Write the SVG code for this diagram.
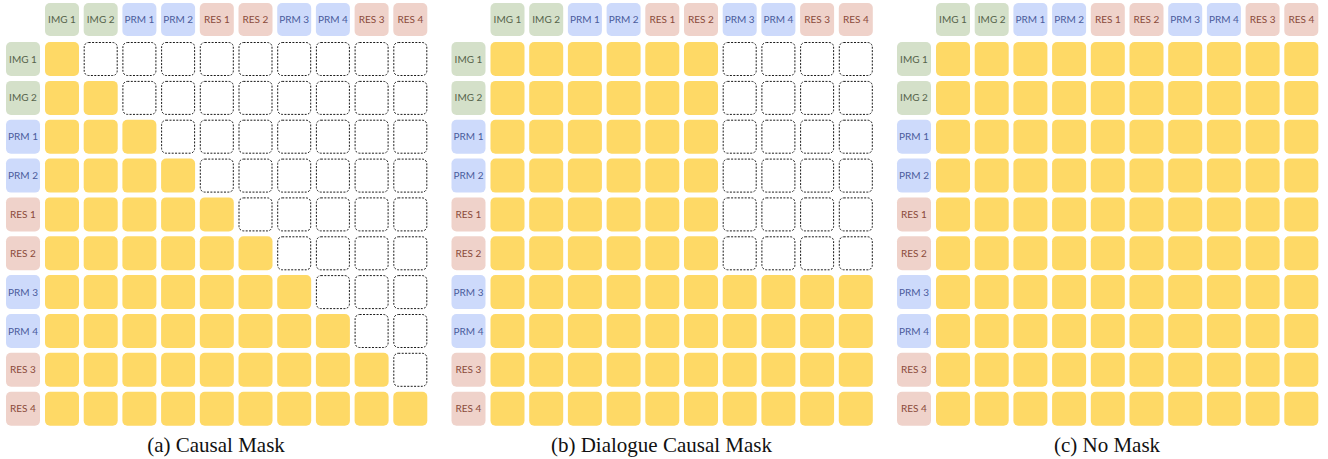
<svg xmlns="http://www.w3.org/2000/svg" xmlns:xlink="http://www.w3.org/1999/xlink" width="1328" height="459" viewBox="0 0 1328 459">
<style>
.lg{fill:#D4E0C9}.lb{fill:#CDDAFB}.lr{fill:#EFD2CA}
text{font-family:Lato,"Open Sans","Liberation Sans",sans-serif;font-size:10px;text-anchor:middle}
.tg{fill:#56634B}.tb{fill:#4B5C9C}.tr{fill:#8A4A3A}
.cap{font-family:"Liberation Serif","Times New Roman",serif;font-size:21px;fill:#111}
</style>
<defs>
<rect id="y" width="34" height="34" rx="5" fill="#FED966"/>
<rect id="d" x="0.5" y="0.5" width="33" height="33" rx="4.5" fill="#fff" stroke="#1a1a1a" stroke-width="1" stroke-dasharray="2 1.4"/>
</defs>
<rect width="1328" height="459" fill="#fff"/>

<!-- Panel A -->
<g id="panel-a">
<g id="a-header">
<g id="a-h1"><rect class="lg" x="45" y="3" width="34" height="33" rx="5"/><text class="tg" x="62" y="23">IMG 1</text></g>
<g id="a-h2"><rect class="lg" x="83.7" y="3" width="34" height="33" rx="5"/><text class="tg" x="100.7" y="23">IMG 2</text></g>
<g id="a-h3"><rect class="lb" x="122.4" y="3" width="34" height="33" rx="5"/><text class="tb" x="139.4" y="23">PRM 1</text></g>
<g id="a-h4"><rect class="lb" x="161.1" y="3" width="34" height="33" rx="5"/><text class="tb" x="178.1" y="23">PRM 2</text></g>
<g id="a-h5"><rect class="lr" x="199.8" y="3" width="34" height="33" rx="5"/><text class="tr" x="216.8" y="23">RES 1</text></g>
<g id="a-h6"><rect class="lr" x="238.5" y="3" width="34" height="33" rx="5"/><text class="tr" x="255.5" y="23">RES 2</text></g>
<g id="a-h7"><rect class="lb" x="277.2" y="3" width="34" height="33" rx="5"/><text class="tb" x="294.2" y="23">PRM 3</text></g>
<g id="a-h8"><rect class="lb" x="315.9" y="3" width="34" height="33" rx="5"/><text class="tb" x="332.9" y="23">PRM 4</text></g>
<g id="a-h9"><rect class="lr" x="354.6" y="3" width="34" height="33" rx="5"/><text class="tr" x="371.6" y="23">RES 3</text></g>
<g id="a-h10"><rect class="lr" x="393.3" y="3" width="34" height="33" rx="5"/><text class="tr" x="410.3" y="23">RES 4</text></g>
</g>
<g id="a-rows">
<g id="a-r1"><rect class="lg" x="6" y="42" width="34" height="34" rx="5"/><text class="tg" x="23" y="62.5">IMG 1</text></g>
<g id="a-r2"><rect class="lg" x="6" y="80.9" width="34" height="34" rx="5"/><text class="tg" x="23" y="101.4">IMG 2</text></g>
<g id="a-r3"><rect class="lb" x="6" y="119.7" width="34" height="34" rx="5"/><text class="tb" x="23" y="140.2">PRM 1</text></g>
<g id="a-r4"><rect class="lb" x="6" y="158.6" width="34" height="34" rx="5"/><text class="tb" x="23" y="179.1">PRM 2</text></g>
<g id="a-r5"><rect class="lr" x="6" y="197.4" width="34" height="34" rx="5"/><text class="tr" x="23" y="217.9">RES 1</text></g>
<g id="a-r6"><rect class="lr" x="6" y="236.3" width="34" height="34" rx="5"/><text class="tr" x="23" y="256.8">RES 2</text></g>
<g id="a-r7"><rect class="lb" x="6" y="275.1" width="34" height="34" rx="5"/><text class="tb" x="23" y="295.6">PRM 3</text></g>
<g id="a-r8"><rect class="lb" x="6" y="314" width="34" height="34" rx="5"/><text class="tb" x="23" y="334.5">PRM 4</text></g>
<g id="a-r9"><rect class="lr" x="6" y="352.8" width="34" height="34" rx="5"/><text class="tr" x="23" y="373.3">RES 3</text></g>
<g id="a-r10"><rect class="lr" x="6" y="391.7" width="34" height="34" rx="5"/><text class="tr" x="23" y="412.2">RES 4</text></g>
</g>
<g id="a-cells">
<use href="#y" x="45" y="42"/><use href="#d" x="83.7" y="42"/><use href="#d" x="122.4" y="42"/><use href="#d" x="161.1" y="42"/><use href="#d" x="199.8" y="42"/><use href="#d" x="238.5" y="42"/><use href="#d" x="277.2" y="42"/><use href="#d" x="315.9" y="42"/><use href="#d" x="354.6" y="42"/><use href="#d" x="393.3" y="42"/>
<use href="#y" x="45" y="80.9"/><use href="#y" x="83.7" y="80.9"/><use href="#d" x="122.4" y="80.9"/><use href="#d" x="161.1" y="80.9"/><use href="#d" x="199.8" y="80.9"/><use href="#d" x="238.5" y="80.9"/><use href="#d" x="277.2" y="80.9"/><use href="#d" x="315.9" y="80.9"/><use href="#d" x="354.6" y="80.9"/><use href="#d" x="393.3" y="80.9"/>
<use href="#y" x="45" y="119.7"/><use href="#y" x="83.7" y="119.7"/><use href="#y" x="122.4" y="119.7"/><use href="#d" x="161.1" y="119.7"/><use href="#d" x="199.8" y="119.7"/><use href="#d" x="238.5" y="119.7"/><use href="#d" x="277.2" y="119.7"/><use href="#d" x="315.9" y="119.7"/><use href="#d" x="354.6" y="119.7"/><use href="#d" x="393.3" y="119.7"/>
<use href="#y" x="45" y="158.6"/><use href="#y" x="83.7" y="158.6"/><use href="#y" x="122.4" y="158.6"/><use href="#y" x="161.1" y="158.6"/><use href="#d" x="199.8" y="158.6"/><use href="#d" x="238.5" y="158.6"/><use href="#d" x="277.2" y="158.6"/><use href="#d" x="315.9" y="158.6"/><use href="#d" x="354.6" y="158.6"/><use href="#d" x="393.3" y="158.6"/>
<use href="#y" x="45" y="197.4"/><use href="#y" x="83.7" y="197.4"/><use href="#y" x="122.4" y="197.4"/><use href="#y" x="161.1" y="197.4"/><use href="#y" x="199.8" y="197.4"/><use href="#d" x="238.5" y="197.4"/><use href="#d" x="277.2" y="197.4"/><use href="#d" x="315.9" y="197.4"/><use href="#d" x="354.6" y="197.4"/><use href="#d" x="393.3" y="197.4"/>
<use href="#y" x="45" y="236.3"/><use href="#y" x="83.7" y="236.3"/><use href="#y" x="122.4" y="236.3"/><use href="#y" x="161.1" y="236.3"/><use href="#y" x="199.8" y="236.3"/><use href="#y" x="238.5" y="236.3"/><use href="#d" x="277.2" y="236.3"/><use href="#d" x="315.9" y="236.3"/><use href="#d" x="354.6" y="236.3"/><use href="#d" x="393.3" y="236.3"/>
<use href="#y" x="45" y="275.1"/><use href="#y" x="83.7" y="275.1"/><use href="#y" x="122.4" y="275.1"/><use href="#y" x="161.1" y="275.1"/><use href="#y" x="199.8" y="275.1"/><use href="#y" x="238.5" y="275.1"/><use href="#y" x="277.2" y="275.1"/><use href="#d" x="315.9" y="275.1"/><use href="#d" x="354.6" y="275.1"/><use href="#d" x="393.3" y="275.1"/>
<use href="#y" x="45" y="314"/><use href="#y" x="83.7" y="314"/><use href="#y" x="122.4" y="314"/><use href="#y" x="161.1" y="314"/><use href="#y" x="199.8" y="314"/><use href="#y" x="238.5" y="314"/><use href="#y" x="277.2" y="314"/><use href="#y" x="315.9" y="314"/><use href="#d" x="354.6" y="314"/><use href="#d" x="393.3" y="314"/>
<use href="#y" x="45" y="352.8"/><use href="#y" x="83.7" y="352.8"/><use href="#y" x="122.4" y="352.8"/><use href="#y" x="161.1" y="352.8"/><use href="#y" x="199.8" y="352.8"/><use href="#y" x="238.5" y="352.8"/><use href="#y" x="277.2" y="352.8"/><use href="#y" x="315.9" y="352.8"/><use href="#y" x="354.6" y="352.8"/><use href="#d" x="393.3" y="352.8"/>
<use href="#y" x="45" y="391.7"/><use href="#y" x="83.7" y="391.7"/><use href="#y" x="122.4" y="391.7"/><use href="#y" x="161.1" y="391.7"/><use href="#y" x="199.8" y="391.7"/><use href="#y" x="238.5" y="391.7"/><use href="#y" x="277.2" y="391.7"/><use href="#y" x="315.9" y="391.7"/><use href="#y" x="354.6" y="391.7"/><use href="#y" x="393.3" y="391.7"/>
</g>
<text id="a-caption" class="cap" x="216" y="452">(a) Causal Mask</text>
</g>

<!-- Panel B -->
<g id="panel-b" transform="translate(445.5,0)">
<g id="b-header">
<g id="b-h1"><rect class="lg" x="45" y="3" width="34" height="33" rx="5"/><text class="tg" x="62" y="23">IMG 1</text></g>
<g id="b-h2"><rect class="lg" x="83.7" y="3" width="34" height="33" rx="5"/><text class="tg" x="100.7" y="23">IMG 2</text></g>
<g id="b-h3"><rect class="lb" x="122.4" y="3" width="34" height="33" rx="5"/><text class="tb" x="139.4" y="23">PRM 1</text></g>
<g id="b-h4"><rect class="lb" x="161.1" y="3" width="34" height="33" rx="5"/><text class="tb" x="178.1" y="23">PRM 2</text></g>
<g id="b-h5"><rect class="lr" x="199.8" y="3" width="34" height="33" rx="5"/><text class="tr" x="216.8" y="23">RES 1</text></g>
<g id="b-h6"><rect class="lr" x="238.5" y="3" width="34" height="33" rx="5"/><text class="tr" x="255.5" y="23">RES 2</text></g>
<g id="b-h7"><rect class="lb" x="277.2" y="3" width="34" height="33" rx="5"/><text class="tb" x="294.2" y="23">PRM 3</text></g>
<g id="b-h8"><rect class="lb" x="315.9" y="3" width="34" height="33" rx="5"/><text class="tb" x="332.9" y="23">PRM 4</text></g>
<g id="b-h9"><rect class="lr" x="354.6" y="3" width="34" height="33" rx="5"/><text class="tr" x="371.6" y="23">RES 3</text></g>
<g id="b-h10"><rect class="lr" x="393.3" y="3" width="34" height="33" rx="5"/><text class="tr" x="410.3" y="23">RES 4</text></g>
</g>
<g id="b-rows">
<g id="b-r1"><rect class="lg" x="6" y="42" width="34" height="34" rx="5"/><text class="tg" x="23" y="62.5">IMG 1</text></g>
<g id="b-r2"><rect class="lg" x="6" y="80.9" width="34" height="34" rx="5"/><text class="tg" x="23" y="101.4">IMG 2</text></g>
<g id="b-r3"><rect class="lb" x="6" y="119.7" width="34" height="34" rx="5"/><text class="tb" x="23" y="140.2">PRM 1</text></g>
<g id="b-r4"><rect class="lb" x="6" y="158.6" width="34" height="34" rx="5"/><text class="tb" x="23" y="179.1">PRM 2</text></g>
<g id="b-r5"><rect class="lr" x="6" y="197.4" width="34" height="34" rx="5"/><text class="tr" x="23" y="217.9">RES 1</text></g>
<g id="b-r6"><rect class="lr" x="6" y="236.3" width="34" height="34" rx="5"/><text class="tr" x="23" y="256.8">RES 2</text></g>
<g id="b-r7"><rect class="lb" x="6" y="275.1" width="34" height="34" rx="5"/><text class="tb" x="23" y="295.6">PRM 3</text></g>
<g id="b-r8"><rect class="lb" x="6" y="314" width="34" height="34" rx="5"/><text class="tb" x="23" y="334.5">PRM 4</text></g>
<g id="b-r9"><rect class="lr" x="6" y="352.8" width="34" height="34" rx="5"/><text class="tr" x="23" y="373.3">RES 3</text></g>
<g id="b-r10"><rect class="lr" x="6" y="391.7" width="34" height="34" rx="5"/><text class="tr" x="23" y="412.2">RES 4</text></g>
</g>
<g id="b-cells">
<use href="#y" x="45" y="42"/><use href="#y" x="83.7" y="42"/><use href="#y" x="122.4" y="42"/><use href="#y" x="161.1" y="42"/><use href="#y" x="199.8" y="42"/><use href="#y" x="238.5" y="42"/><use href="#d" x="277.2" y="42"/><use href="#d" x="315.9" y="42"/><use href="#d" x="354.6" y="42"/><use href="#d" x="393.3" y="42"/>
<use href="#y" x="45" y="80.9"/><use href="#y" x="83.7" y="80.9"/><use href="#y" x="122.4" y="80.9"/><use href="#y" x="161.1" y="80.9"/><use href="#y" x="199.8" y="80.9"/><use href="#y" x="238.5" y="80.9"/><use href="#d" x="277.2" y="80.9"/><use href="#d" x="315.9" y="80.9"/><use href="#d" x="354.6" y="80.9"/><use href="#d" x="393.3" y="80.9"/>
<use href="#y" x="45" y="119.7"/><use href="#y" x="83.7" y="119.7"/><use href="#y" x="122.4" y="119.7"/><use href="#y" x="161.1" y="119.7"/><use href="#y" x="199.8" y="119.7"/><use href="#y" x="238.5" y="119.7"/><use href="#d" x="277.2" y="119.7"/><use href="#d" x="315.9" y="119.7"/><use href="#d" x="354.6" y="119.7"/><use href="#d" x="393.3" y="119.7"/>
<use href="#y" x="45" y="158.6"/><use href="#y" x="83.7" y="158.6"/><use href="#y" x="122.4" y="158.6"/><use href="#y" x="161.1" y="158.6"/><use href="#y" x="199.8" y="158.6"/><use href="#y" x="238.5" y="158.6"/><use href="#d" x="277.2" y="158.6"/><use href="#d" x="315.9" y="158.6"/><use href="#d" x="354.6" y="158.6"/><use href="#d" x="393.3" y="158.6"/>
<use href="#y" x="45" y="197.4"/><use href="#y" x="83.7" y="197.4"/><use href="#y" x="122.4" y="197.4"/><use href="#y" x="161.1" y="197.4"/><use href="#y" x="199.8" y="197.4"/><use href="#y" x="238.5" y="197.4"/><use href="#d" x="277.2" y="197.4"/><use href="#d" x="315.9" y="197.4"/><use href="#d" x="354.6" y="197.4"/><use href="#d" x="393.3" y="197.4"/>
<use href="#y" x="45" y="236.3"/><use href="#y" x="83.7" y="236.3"/><use href="#y" x="122.4" y="236.3"/><use href="#y" x="161.1" y="236.3"/><use href="#y" x="199.8" y="236.3"/><use href="#y" x="238.5" y="236.3"/><use href="#d" x="277.2" y="236.3"/><use href="#d" x="315.9" y="236.3"/><use href="#d" x="354.6" y="236.3"/><use href="#d" x="393.3" y="236.3"/>
<use href="#y" x="45" y="275.1"/><use href="#y" x="83.7" y="275.1"/><use href="#y" x="122.4" y="275.1"/><use href="#y" x="161.1" y="275.1"/><use href="#y" x="199.8" y="275.1"/><use href="#y" x="238.5" y="275.1"/><use href="#y" x="277.2" y="275.1"/><use href="#y" x="315.9" y="275.1"/><use href="#y" x="354.6" y="275.1"/><use href="#y" x="393.3" y="275.1"/>
<use href="#y" x="45" y="314"/><use href="#y" x="83.7" y="314"/><use href="#y" x="122.4" y="314"/><use href="#y" x="161.1" y="314"/><use href="#y" x="199.8" y="314"/><use href="#y" x="238.5" y="314"/><use href="#y" x="277.2" y="314"/><use href="#y" x="315.9" y="314"/><use href="#y" x="354.6" y="314"/><use href="#y" x="393.3" y="314"/>
<use href="#y" x="45" y="352.8"/><use href="#y" x="83.7" y="352.8"/><use href="#y" x="122.4" y="352.8"/><use href="#y" x="161.1" y="352.8"/><use href="#y" x="199.8" y="352.8"/><use href="#y" x="238.5" y="352.8"/><use href="#y" x="277.2" y="352.8"/><use href="#y" x="315.9" y="352.8"/><use href="#y" x="354.6" y="352.8"/><use href="#y" x="393.3" y="352.8"/>
<use href="#y" x="45" y="391.7"/><use href="#y" x="83.7" y="391.7"/><use href="#y" x="122.4" y="391.7"/><use href="#y" x="161.1" y="391.7"/><use href="#y" x="199.8" y="391.7"/><use href="#y" x="238.5" y="391.7"/><use href="#y" x="277.2" y="391.7"/><use href="#y" x="315.9" y="391.7"/><use href="#y" x="354.6" y="391.7"/><use href="#y" x="393.3" y="391.7"/>
</g>
<text id="b-caption" class="cap" x="216" y="452">(b) Dialogue Causal Mask</text>
</g>

<!-- Panel C -->
<g id="panel-c" transform="translate(891,0)">
<g id="c-header">
<g id="c-h1"><rect class="lg" x="45" y="3" width="34" height="33" rx="5"/><text class="tg" x="62" y="23">IMG 1</text></g>
<g id="c-h2"><rect class="lg" x="83.7" y="3" width="34" height="33" rx="5"/><text class="tg" x="100.7" y="23">IMG 2</text></g>
<g id="c-h3"><rect class="lb" x="122.4" y="3" width="34" height="33" rx="5"/><text class="tb" x="139.4" y="23">PRM 1</text></g>
<g id="c-h4"><rect class="lb" x="161.1" y="3" width="34" height="33" rx="5"/><text class="tb" x="178.1" y="23">PRM 2</text></g>
<g id="c-h5"><rect class="lr" x="199.8" y="3" width="34" height="33" rx="5"/><text class="tr" x="216.8" y="23">RES 1</text></g>
<g id="c-h6"><rect class="lr" x="238.5" y="3" width="34" height="33" rx="5"/><text class="tr" x="255.5" y="23">RES 2</text></g>
<g id="c-h7"><rect class="lb" x="277.2" y="3" width="34" height="33" rx="5"/><text class="tb" x="294.2" y="23">PRM 3</text></g>
<g id="c-h8"><rect class="lb" x="315.9" y="3" width="34" height="33" rx="5"/><text class="tb" x="332.9" y="23">PRM 4</text></g>
<g id="c-h9"><rect class="lr" x="354.6" y="3" width="34" height="33" rx="5"/><text class="tr" x="371.6" y="23">RES 3</text></g>
<g id="c-h10"><rect class="lr" x="393.3" y="3" width="34" height="33" rx="5"/><text class="tr" x="410.3" y="23">RES 4</text></g>
</g>
<g id="c-rows">
<g id="c-r1"><rect class="lg" x="6" y="42" width="34" height="34" rx="5"/><text class="tg" x="23" y="62.5">IMG 1</text></g>
<g id="c-r2"><rect class="lg" x="6" y="80.9" width="34" height="34" rx="5"/><text class="tg" x="23" y="101.4">IMG 2</text></g>
<g id="c-r3"><rect class="lb" x="6" y="119.7" width="34" height="34" rx="5"/><text class="tb" x="23" y="140.2">PRM 1</text></g>
<g id="c-r4"><rect class="lb" x="6" y="158.6" width="34" height="34" rx="5"/><text class="tb" x="23" y="179.1">PRM 2</text></g>
<g id="c-r5"><rect class="lr" x="6" y="197.4" width="34" height="34" rx="5"/><text class="tr" x="23" y="217.9">RES 1</text></g>
<g id="c-r6"><rect class="lr" x="6" y="236.3" width="34" height="34" rx="5"/><text class="tr" x="23" y="256.8">RES 2</text></g>
<g id="c-r7"><rect class="lb" x="6" y="275.1" width="34" height="34" rx="5"/><text class="tb" x="23" y="295.6">PRM 3</text></g>
<g id="c-r8"><rect class="lb" x="6" y="314" width="34" height="34" rx="5"/><text class="tb" x="23" y="334.5">PRM 4</text></g>
<g id="c-r9"><rect class="lr" x="6" y="352.8" width="34" height="34" rx="5"/><text class="tr" x="23" y="373.3">RES 3</text></g>
<g id="c-r10"><rect class="lr" x="6" y="391.7" width="34" height="34" rx="5"/><text class="tr" x="23" y="412.2">RES 4</text></g>
</g>
<g id="c-cells">
<use href="#y" x="45" y="42"/><use href="#y" x="83.7" y="42"/><use href="#y" x="122.4" y="42"/><use href="#y" x="161.1" y="42"/><use href="#y" x="199.8" y="42"/><use href="#y" x="238.5" y="42"/><use href="#y" x="277.2" y="42"/><use href="#y" x="315.9" y="42"/><use href="#y" x="354.6" y="42"/><use href="#y" x="393.3" y="42"/>
<use href="#y" x="45" y="80.9"/><use href="#y" x="83.7" y="80.9"/><use href="#y" x="122.4" y="80.9"/><use href="#y" x="161.1" y="80.9"/><use href="#y" x="199.8" y="80.9"/><use href="#y" x="238.5" y="80.9"/><use href="#y" x="277.2" y="80.9"/><use href="#y" x="315.9" y="80.9"/><use href="#y" x="354.6" y="80.9"/><use href="#y" x="393.3" y="80.9"/>
<use href="#y" x="45" y="119.7"/><use href="#y" x="83.7" y="119.7"/><use href="#y" x="122.4" y="119.7"/><use href="#y" x="161.1" y="119.7"/><use href="#y" x="199.8" y="119.7"/><use href="#y" x="238.5" y="119.7"/><use href="#y" x="277.2" y="119.7"/><use href="#y" x="315.9" y="119.7"/><use href="#y" x="354.6" y="119.7"/><use href="#y" x="393.3" y="119.7"/>
<use href="#y" x="45" y="158.6"/><use href="#y" x="83.7" y="158.6"/><use href="#y" x="122.4" y="158.6"/><use href="#y" x="161.1" y="158.6"/><use href="#y" x="199.8" y="158.6"/><use href="#y" x="238.5" y="158.6"/><use href="#y" x="277.2" y="158.6"/><use href="#y" x="315.9" y="158.6"/><use href="#y" x="354.6" y="158.6"/><use href="#y" x="393.3" y="158.6"/>
<use href="#y" x="45" y="197.4"/><use href="#y" x="83.7" y="197.4"/><use href="#y" x="122.4" y="197.4"/><use href="#y" x="161.1" y="197.4"/><use href="#y" x="199.8" y="197.4"/><use href="#y" x="238.5" y="197.4"/><use href="#y" x="277.2" y="197.4"/><use href="#y" x="315.9" y="197.4"/><use href="#y" x="354.6" y="197.4"/><use href="#y" x="393.3" y="197.4"/>
<use href="#y" x="45" y="236.3"/><use href="#y" x="83.7" y="236.3"/><use href="#y" x="122.4" y="236.3"/><use href="#y" x="161.1" y="236.3"/><use href="#y" x="199.8" y="236.3"/><use href="#y" x="238.5" y="236.3"/><use href="#y" x="277.2" y="236.3"/><use href="#y" x="315.9" y="236.3"/><use href="#y" x="354.6" y="236.3"/><use href="#y" x="393.3" y="236.3"/>
<use href="#y" x="45" y="275.1"/><use href="#y" x="83.7" y="275.1"/><use href="#y" x="122.4" y="275.1"/><use href="#y" x="161.1" y="275.1"/><use href="#y" x="199.8" y="275.1"/><use href="#y" x="238.5" y="275.1"/><use href="#y" x="277.2" y="275.1"/><use href="#y" x="315.9" y="275.1"/><use href="#y" x="354.6" y="275.1"/><use href="#y" x="393.3" y="275.1"/>
<use href="#y" x="45" y="314"/><use href="#y" x="83.7" y="314"/><use href="#y" x="122.4" y="314"/><use href="#y" x="161.1" y="314"/><use href="#y" x="199.8" y="314"/><use href="#y" x="238.5" y="314"/><use href="#y" x="277.2" y="314"/><use href="#y" x="315.9" y="314"/><use href="#y" x="354.6" y="314"/><use href="#y" x="393.3" y="314"/>
<use href="#y" x="45" y="352.8"/><use href="#y" x="83.7" y="352.8"/><use href="#y" x="122.4" y="352.8"/><use href="#y" x="161.1" y="352.8"/><use href="#y" x="199.8" y="352.8"/><use href="#y" x="238.5" y="352.8"/><use href="#y" x="277.2" y="352.8"/><use href="#y" x="315.9" y="352.8"/><use href="#y" x="354.6" y="352.8"/><use href="#y" x="393.3" y="352.8"/>
<use href="#y" x="45" y="391.7"/><use href="#y" x="83.7" y="391.7"/><use href="#y" x="122.4" y="391.7"/><use href="#y" x="161.1" y="391.7"/><use href="#y" x="199.8" y="391.7"/><use href="#y" x="238.5" y="391.7"/><use href="#y" x="277.2" y="391.7"/><use href="#y" x="315.9" y="391.7"/><use href="#y" x="354.6" y="391.7"/><use href="#y" x="393.3" y="391.7"/>
</g>
<text id="c-caption" class="cap" x="216" y="452">(c) No Mask</text>
</g>
<g id="connectors"/>
</svg>
